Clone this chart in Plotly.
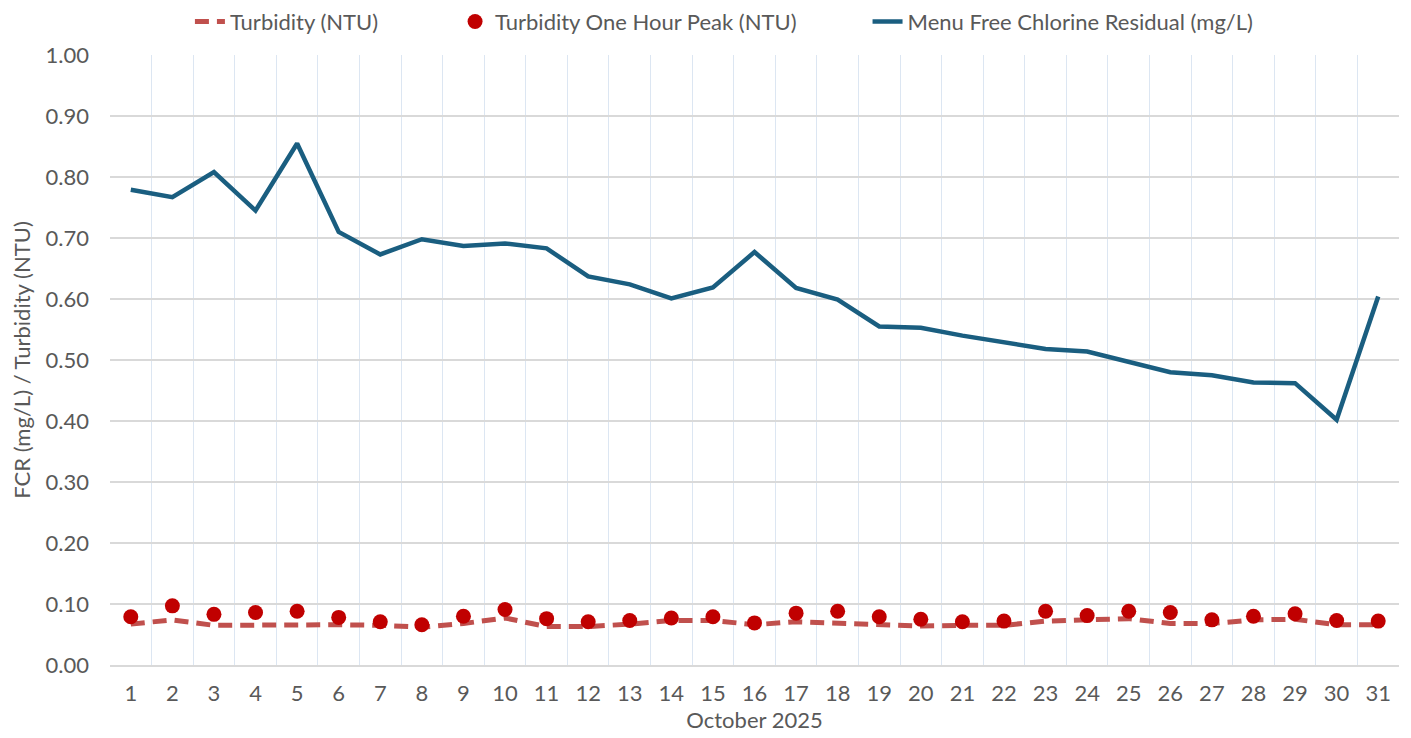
import plotly.graph_objects as go

days = [str(d) for d in range(1, 32)]

fcr = [0.779, 0.767, 0.808, 0.745, 0.855, 0.710, 0.673, 0.698, 0.687, 0.691,
       0.683, 0.637, 0.624, 0.601, 0.619, 0.677, 0.618, 0.599, 0.555, 0.553,
       0.540, 0.529, 0.518, 0.514, 0.497, 0.480, 0.475, 0.463, 0.462, 0.402,
       0.604]

turbidity = [0.067, 0.074, 0.065, 0.066, 0.067, 0.066, 0.065, 0.062, 0.068, 0.077,
             0.063, 0.063, 0.067, 0.073, 0.073, 0.066, 0.071, 0.068, 0.067, 0.064,
             0.065, 0.065, 0.072, 0.073, 0.076, 0.068, 0.068, 0.074, 0.075, 0.066,
             0.066]

turbidity_peak = [0.079, 0.097, 0.083, 0.086, 0.088, 0.078, 0.071, 0.066, 0.080, 0.091,
                  0.076, 0.071, 0.073, 0.077, 0.079, 0.069, 0.085, 0.088, 0.079, 0.075,
                  0.071, 0.072, 0.088, 0.081, 0.088, 0.086, 0.074, 0.080, 0.084, 0.073,
                  0.072]

FONT = "Lato"
TXT = "#595959"
FS = 22

fig = go.Figure()
fig.add_trace(go.Scatter(
    x=days, y=turbidity, mode="lines", name="Turbidity (NTU)",
    line=dict(color="#c0504d", width=5, dash="14px,8px"),
    legend="legend", showlegend=True))
fig.add_trace(go.Scatter(
    x=days, y=turbidity_peak, mode="markers", name="Turbidity One Hour Peak (NTU)",
    marker=dict(color="#c00000", size=15, line=dict(width=0)),
    legend="legend2", showlegend=True))
fig.add_trace(go.Scatter(
    x=days, y=fcr, mode="lines", name="Menu Free Chlorine Residual (mg/L)",
    line=dict(color="#1a5e80", width=4.5),
    legend="legend3", showlegend=True))

leg_common = dict(orientation="h", yanchor="middle", y=1.0545, xanchor="left",
                  font=dict(family=FONT, size=FS, color=TXT),
                  bgcolor="rgba(0,0,0,0)")

fig.update_layout(
    width=1411, height=738,
    showlegend=True,
    margin=dict(l=102, r=20, t=47, b=81, autoexpand=False),
    paper_bgcolor="white", plot_bgcolor="white",
    font=dict(family=FONT, size=FS, color=TXT),
    legend=dict(x=0.062, **leg_common),
    legend2=dict(x=0.2677, **leg_common),
    legend3=dict(x=0.5877, **leg_common),
    xaxis=dict(
        type="category", tickson="boundaries",
        showgrid=True, gridcolor="#dce6f2", gridwidth=1,
        showline=True, linecolor="#d9d9d9", linewidth=2,
        ticks="", tickfont=dict(family=FONT, size=FS, color=TXT),
        ticklabelstandoff=8,
        title=dict(text="October 2025", font=dict(family=FONT, size=FS, color=TXT), standoff=2),
        range=[-0.5, 30.5]),
    yaxis=dict(
        range=[0, 1.0], dtick=0.1, tick0=0, tickformat=".2f",
        showgrid=True, gridcolor="#d9d9d9", gridwidth=2,
        zeroline=False, showline=False,
        ticks="", ticklabelstandoff=20,
        tickfont=dict(family=FONT, size=FS, color=TXT),
        title=dict(text="FCR (mg/L) / Turbidity (NTU)", font=dict(family=FONT, size=FS, color=TXT), standoff=10)),
)

fig.write_html("out.html")
